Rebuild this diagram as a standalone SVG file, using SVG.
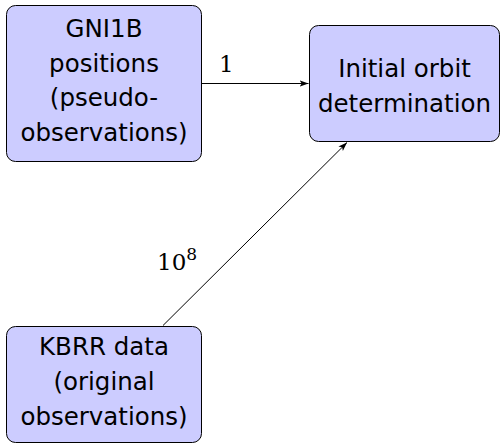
<svg xmlns="http://www.w3.org/2000/svg" width="501" height="445" viewBox="0 0 501 445">
<style>
.box{fill:#ccccff;stroke:#000;stroke-width:1}
.t{font-family:"DejaVu Sans",sans-serif;font-size:24.5px;fill:#000;text-anchor:middle}
.lab{font-family:"DejaVu Serif","Liberation Serif",serif;font-size:23px;fill:#000}
.edge{stroke:#000;stroke-width:1;fill:none;marker-end:url(#ah)}
</style>
<defs>
<marker id="ah" viewBox="0 0 10 10" refX="10" refY="5" markerWidth="9" markerHeight="9" markerUnits="userSpaceOnUse" orient="auto">
<path d="M0,1.5 L10,5 L0,8.5 L2.5,5 Z" fill="#000"/>
</marker>
</defs>
<g id="connectors">
<line class="edge" x1="201" y1="83.5" x2="308.5" y2="83.5"/>
<line class="edge" x1="163" y1="325.5" x2="347" y2="142.5"/>
<text class="lab" x="219" y="72">1</text>
<text class="lab" x="157" y="270">10<tspan font-size="17" dy="-10">8</tspan></text>
</g>
<g id="gni1b">
<rect class="box" x="6.5" y="5.5" width="195" height="156" rx="9"/>
<text class="t" x="104" y="37">GNI1B</text>
<text class="t" x="104" y="71.5">positions</text>
<text class="t" x="104" y="106">(pseudo-</text>
<text class="t" x="104" y="140.5">observations)</text>
</g>
<g id="iod">
<rect class="box" x="309.5" y="25.5" width="190" height="116" rx="9"/>
<text class="t" x="404.5" y="77">Initial orbit</text>
<text class="t" x="404.5" y="112">determination</text>
</g>
<g id="kbrr">
<rect class="box" x="6.5" y="326.5" width="195" height="116" rx="9"/>
<text class="t" x="104" y="355">KBRR data</text>
<text class="t" x="104" y="390">(original</text>
<text class="t" x="104" y="425">observations)</text>
</g>
</svg>
